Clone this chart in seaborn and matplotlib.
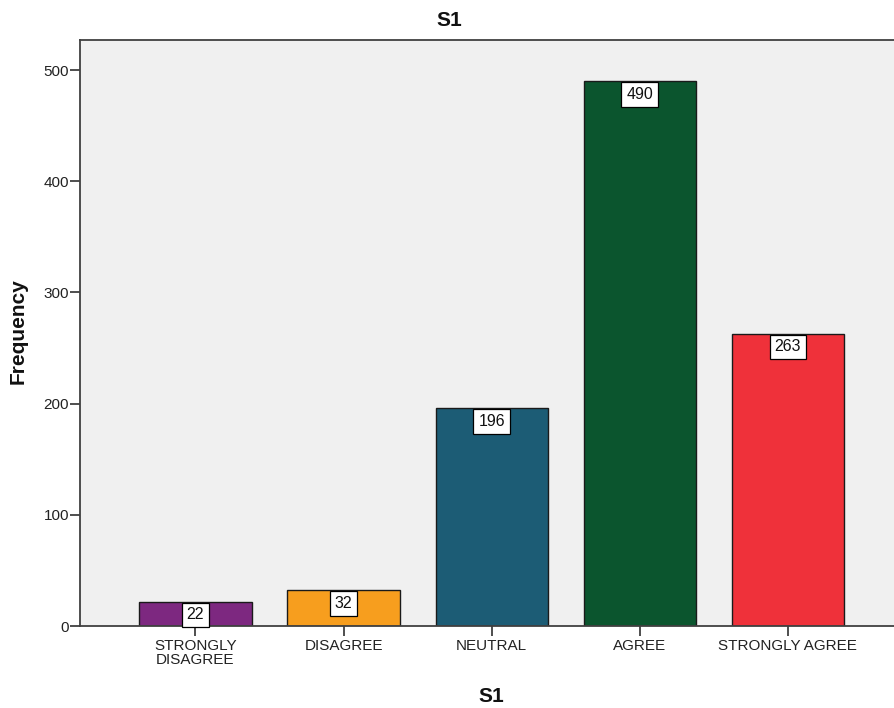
import matplotlib
matplotlib.use("Agg")
import matplotlib.pyplot as plt
import seaborn as sns
import pandas as pd

categories = ["STRONGLY\nDISAGREE", "DISAGREE", "NEUTRAL", "AGREE", "STRONGLY AGREE"]
frequencies = [22, 32, 196, 490, 263]
bar_colors = ["#7D2880", "#F79E1E", "#1C5C75", "#0B552E", "#EF313A"]
y_ticks = [0, 100, 200, 300, 400, 500]

df = pd.DataFrame({"S1": categories, "Frequency": frequencies})

sns.set_theme(style="white")
plt.rcParams["font.family"] = ["Liberation Sans", "DejaVu Sans"]

fig = plt.figure(figsize=(8.95, 7.08), dpi=100)
ax = fig.add_axes([80 / 895, 1 - 626 / 708, 1 - 80 / 895, (626 - 40) / 708])
ax.set_facecolor("#F0F0F0")

sns.barplot(data=df, x="S1", y="Frequency", hue="S1", palette=bar_colors,
            legend=False, width=0.757, edgecolor="#1A1A1A", linewidth=1.0,
            saturation=1, ax=ax)

# value boxes hanging from the top edge of each bar
for i, v in enumerate(frequencies):
    ax.annotate(str(v), xy=(i, v), xytext=(0, -4.2), textcoords="offset points",
                ha="center", va="top", fontsize=11.5, color="#111111",
                bbox=dict(boxstyle="square,pad=0.3", fc="white", ec="black", lw=0.9))

ax.set_xlim(-0.78, 4.725)
ax.set_ylim(0, 527)
ax.set_yticks(y_ticks)

for side in ["left", "top", "bottom"]:
    ax.spines[side].set_color("#404040")
    ax.spines[side].set_linewidth(1.3)
ax.spines["right"].set_visible(False)

ax.tick_params(axis="both", which="major", direction="out", length=7, width=1.3,
               color="#404040", labelsize=11, labelcolor="#222222", pad=1,
               left=True, bottom=True)
ax.tick_params(axis="x", pad=2)
for lab in ax.get_xticklabels():
    lab.set_linespacing(1.0)

ax.set_xlabel("")
ax.set_ylabel("")
fig.text(449 / 895, 1 - 21 / 708, "S1", ha="center", va="center",
         fontsize=15, fontweight="bold", color="#111111")
fig.text(491 / 895, 1 - 696 / 708, "S1", ha="center", va="center",
         fontsize=15, fontweight="bold", color="#111111")
fig.text(18 / 895, 1 - 331 / 708, "Frequency", ha="center", va="center",
         rotation=90, fontsize=15, fontweight="bold", color="#111111")

fig.savefig("out.png", dpi=100)
